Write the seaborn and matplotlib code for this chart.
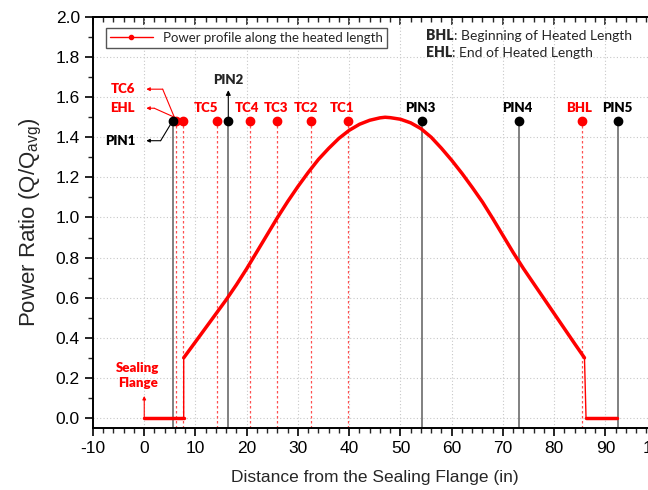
import matplotlib
matplotlib.use('Agg')
import matplotlib.pyplot as plt
import pandas as pd
import seaborn as sns
from matplotlib.ticker import MultipleLocator

#%% data
flange_x = [0, 2, 4, 6, 7.7]
flange_y = [0, 0, 0, 0, 0]
heated_x = [7.7, 10, 12, 14, 16, 18, 20, 22, 24, 26, 28, 30, 32, 34, 36, 38, 40, 42, 44, 46, 47,
            48, 50, 52, 54, 56, 58, 60, 62, 64, 66, 68, 70, 72, 74, 76, 78, 80, 82, 84, 85.9]
heated_y = [0.30, 0.38, 0.45, 0.52, 0.59, 0.665, 0.745, 0.83, 0.915, 1.00, 1.08, 1.155, 1.225,
            1.29, 1.345, 1.395, 1.435, 1.465, 1.485, 1.497, 1.50, 1.498, 1.49, 1.472, 1.443,
            1.40, 1.345, 1.285, 1.22, 1.15, 1.077, 0.995, 0.91, 0.825, 0.745, 0.67, 0.595,
            0.52, 0.445, 0.37, 0.30]
tail_x = [86.2, 88, 90, 92.3]
tail_y = [0, 0, 0, 0]

pin_x = [5.6, 16.4, 54.2, 73.2, 92.4]
pin_names = ['PIN1', 'PIN2', 'PIN3', 'PIN4', 'PIN5']
red_x = [6.2, 7.65, 14.1, 20.7, 25.9, 32.5, 39.8, 85.4]
red_names = ['TC6', 'EHL', 'TC5', 'TC4', 'TC3', 'TC2', 'TC1', 'BHL']
mark_y = 1.48

# labels standing straight over their markers
top_names = ['TC5', 'TC4', 'TC3', 'TC2', 'TC1', 'PIN3', 'PIN4', 'BHL', 'PIN5']
top_x = [12.1, 20.1, 25.7, 31.6, 38.6, 53.8, 72.8, 84.8, 92.4]
top_col = ['red'] * 5 + ['black', 'black', 'red', 'black']

#%%
sns.set_theme(style='ticks')
plt.rcParams['font.family'] = ['Liberation Sans', 'DejaVu Sans']
plt.rcParams['axes.unicode_minus'] = False
lab_font = 'Lato'

fig = plt.figure(figsize=(6.48, 4.9), dpi=100)
ax = fig.add_axes([0.1435, 0.1265, 0.870, 0.8388])

ax.grid(True, ls=(0, (1, 2)), color='#c8c8c8', lw=0.8)
ax.set_axisbelow(True)

# vertical markers
ax.vlines(red_x, -0.05, mark_y, colors='#ff5050', linestyles=(0, (2, 2)), lw=0.9)
ax.vlines(pin_x, -0.05, mark_y, colors='#808080', lw=1.4)
ax.plot(red_x, [mark_y] * len(red_x), 'o', color='red', ms=6, zorder=5)
ax.plot(pin_x, [mark_y] * len(pin_x), 'o', color='black', ms=6, zorder=5)

# power profile
prof = pd.DataFrame({'x': flange_x + heated_x + tail_x,
                     'y': flange_y + heated_y + tail_y})
sns.lineplot(data=prof, x='x', y='y', sort=False, estimator=None, color='red', lw=1, ax=ax, zorder=4)
for xs, ys in [(flange_x, flange_y), (heated_x, heated_y), (tail_x, tail_y)]:
    ax.plot(xs, ys, color='red', lw=2.5, solid_capstyle='round', solid_joinstyle='round', zorder=4)
leg_h, = ax.plot([], [], color='red', lw=1, marker='o', ms=3)
ax.legend([leg_h], ['Power profile along the heated length'], loc='upper left',
          bbox_to_anchor=(0.012, 0.99), fancybox=False, edgecolor='#555555', framealpha=1,
          handlelength=3.2, numpoints=1, borderpad=0.3,
          prop={'family': lab_font, 'size': 9.5})

# labels over markers
for n, x, c in zip(top_names, top_x, top_col):
    ax.text(x, 1.515, n, ha='center', va='bottom', color=c, fontweight='heavy',
            fontsize=9.5, family=lab_font)

# PIN2 arrow
ax.annotate('', xy=(16.4, 1.635), xytext=(16.4, mark_y),
            arrowprops=dict(arrowstyle='-|>', color='black', lw=0.8, mutation_scale=7, shrinkA=0, shrinkB=0))
ax.text(16.4, 1.655, 'PIN2', ha='center', va='bottom', fontweight='heavy', fontsize=9.5, family=lab_font)

# bent arrows on the left
def bent_arrow(x0, xb, yb, c, name):
    ax.plot([x0, xb], [mark_y, yb], color=c, lw=0.8)
    ax.annotate('', xy=(0.4, yb), xytext=(xb, yb),
                arrowprops=dict(arrowstyle='-|>', color=c, lw=0.8, mutation_scale=5, shrinkA=0, shrinkB=0))
    ax.text(-1.8, yb, name, ha='right', va='center', color=c, fontweight='heavy', fontsize=9.5, family=lab_font)

bent_arrow(6.2, 3.6, 1.64, 'red', 'TC6')
bent_arrow(7.65, 1.95, 1.545, 'red', 'EHL')
bent_arrow(5.5, 3.2, 1.383, 'black', 'PIN1')

# sealing flange
ax.annotate('', xy=(0, 0.11), xytext=(0, 0),
            arrowprops=dict(arrowstyle='-|>', color='red', lw=0.8, mutation_scale=5, shrinkA=0, shrinkB=0))
ax.text(-1.3, 0.21, 'Sealing\nFlange', ha='center', va='center', color='red', fontweight='heavy',
        fontsize=9.5, family=lab_font, linespacing=1.3)

# BHL / EHL note
for y, b, t in [(1.909, 'BHL', ': Beginning of Heated Length'), (1.822, 'EHL', ': End of Heated Length')]:
    tb = ax.text(55.0, y, b, ha='left', va='center', fontweight='heavy', fontsize=10, family=lab_font)
    ax.annotate(t, xy=(1, 0), xycoords=tb, va='bottom', ha='left', fontsize=10, family=lab_font)

# axes
ax.set_xlim(-10, 100)
ax.set_ylim(-0.05, 2.0)
ax.xaxis.set_major_locator(MultipleLocator(10))
ax.xaxis.set_minor_locator(MultipleLocator(2))
ax.yaxis.set_major_locator(MultipleLocator(0.2))
ax.yaxis.set_minor_locator(MultipleLocator(0.1))
ax.yaxis.set_major_formatter(lambda v, p: f'{v:.1f}')
ax.tick_params(which='major', direction='out', length=6, width=1.2, labelsize=12.5, colors='black')
ax.tick_params(which='minor', direction='out', length=3.5, width=1)
for s in ax.spines.values():
    s.set_linewidth(1.4)
    s.set_color('black')

top = ax.secondary_xaxis('top')
top.xaxis.set_major_locator(MultipleLocator(10))
top.xaxis.set_minor_locator(MultipleLocator(2))
top.tick_params(which='major', direction='in', length=6, width=1.2, labeltop=False)
top.tick_params(which='minor', direction='in', length=3.5, width=1)
rgt = ax.secondary_yaxis('right')
rgt.yaxis.set_major_locator(MultipleLocator(0.2))
rgt.yaxis.set_minor_locator(MultipleLocator(0.1))
rgt.tick_params(which='major', direction='in', length=6, width=1.2, labelright=False)
rgt.tick_params(which='minor', direction='in', length=3.5, width=1)

ax.set_xlabel('Distance from the Sealing Flange (in)', fontsize=12.5, labelpad=10)
ax.set_ylabel('Power Ratio (Q/Q$_{\\mathregular{avg}}$)', fontsize=16, labelpad=8)

fig.savefig('out.png', dpi=100)
